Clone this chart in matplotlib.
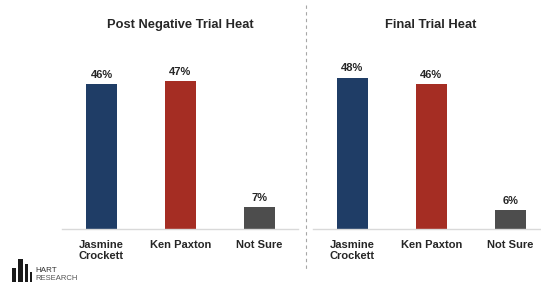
import matplotlib.pyplot as plt
from matplotlib.patches import Rectangle
from matplotlib.lines import Line2D

plt.rcParams['font.family'] = ['Liberation Sans', 'DejaVu Sans']

categories = ["Jasmine\nCrockett", "Ken Paxton", "Not Sure"]
post_negative = [46, 47, 7]
final_heat = [48, 46, 6]
titles = ["Post Negative Trial Heat", "Final Trial Heat"]
colors = ["#1f3d66", "#a52d23", "#4d4d4d"]

W, H = 541, 287
fig = plt.figure(figsize=(W / 100, H / 100), dpi=100)

# axes placed in pixel terms: baseline at y=229, 3.16 px per percent
bottom = (H - 229.3) / H
top_val = 55
height = top_val * 3.16 / H
ax_left = fig.add_axes([62 / W, bottom, 236 / W, height])
ax_right = fig.add_axes([313 / W, bottom, 228 / W, height])

panels = [(ax_left, post_negative, 2.49), (ax_right, final_heat, 2.39)]
for (ax, vals, xmax), title, cx in zip(panels, titles, [180, 431]):
    x = range(len(vals))
    bars = ax.bar(x, vals, width=0.39, color=colors)
    for b, v in zip(bars, vals):
        ax.annotate(f"{v}%", (b.get_x() + b.get_width() / 2, v),
                    xytext=(0, 3), textcoords="offset points",
                    ha="center", va="bottom", fontsize=8, fontweight="bold",
                    color="#262626")
    ax.set_xlim(-0.5, xmax)
    ax.set_ylim(0, top_val)
    ax.set_xticks(list(x))
    ax.set_xticklabels(categories, fontsize=8, fontweight="bold", color="#262626",
                       linespacing=1.15)
    ax.tick_params(axis="x", length=0, pad=7.5)
    ax.set_yticks([])
    for s in ["top", "right", "left"]:
        ax.spines[s].set_visible(False)
    ax.spines["bottom"].set_color("#d9d9d9")
    ax.spines["bottom"].set_linewidth(1)
    fig.text(cx / W, 1 - 25 / H, title, ha="center", va="center",
             fontsize=9.3, fontweight="bold", color="#262626")

# dashed divider between the two panels
fig.add_artist(Line2D([306 / W, 306 / W], [1 - 5 / H, 1 - 270 / H],
                      transform=fig.transFigure, color="#a6a6a6",
                      linestyle=(0, (3, 3)), linewidth=0.8))

# Hart Research logo
logo_bars = [(12.3, 15.5, 268), (17.7, 23.3, 259), (25.2, 28.3, 264), (29.7, 32.0, 272)]
for x0, x1, y0 in logo_bars:
    fig.add_artist(Rectangle((x0 / W, 1 - 282 / H), (x1 - x0) / W, (282 - y0) / H,
                             transform=fig.transFigure, color="#1a1a1a", lw=0))
fig.text(35 / W, 1 - 270.5 / H, "HART", fontsize=5.8, color="#333333", va="center")
fig.text(35 / W, 1 - 279 / H, "RESEARCH", fontsize=5.5, color="#555555", va="center")

fig.savefig("out.png", dpi=100)
